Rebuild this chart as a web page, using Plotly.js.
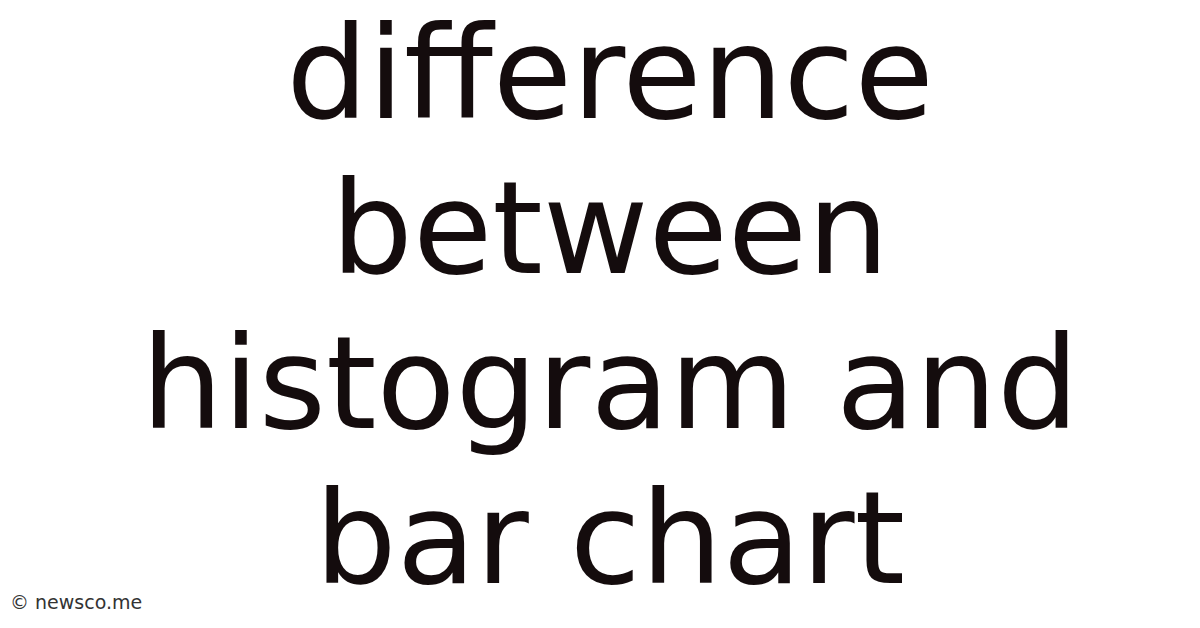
<!DOCTYPE html>
<html><head><meta charset="utf-8">
<script src="https://cdn.plot.ly/plotly-3.0.1.min.js"></script>
<style>html,body{margin:0;padding:0;background:#fff;}#c{width:1200px;height:628px;}</style>
</head><body><div id="c"></div>
<script>
var titleLines = ["difference", "between", "histogram and", "bar chart"];
var lineIndex = [0, 1, 2, 3];
var lineX = [0, 0, 0, 0];
var watermark = "© newsco.me";

var trace = {
  x: lineX, y: lineIndex, text: titleLines, mode: "text", type: "scatter",
  textposition: "middle center",
  textfont: {family: "DejaVu Sans", size: 129, color: "#140c0d"},
  hoverinfo: "skip", showlegend: false, cliponaxis: false
};
var layout = {
  width: 1200, height: 628,
  margin: {l: 0, r: 0, t: 0, b: 0},
  paper_bgcolor: "#ffffff", plot_bgcolor: "#ffffff",
  xaxis: {range: [-610, 590], visible: false, fixedrange: true},
  yaxis: {range: [3.5013, -0.5503], visible: false, fixedrange: true},
  annotations: [{
    text: watermark, xref: "paper", yref: "paper", x: 0.007, y: 0.041,
    xanchor: "left", yanchor: "middle", showarrow: false,
    font: {family: "DejaVu Sans", size: 19, color: "#333333"}
  }]
};
Plotly.newPlot("c", [trace], layout, {staticPlot: true, displayModeBar: false});
</script></body></html>
